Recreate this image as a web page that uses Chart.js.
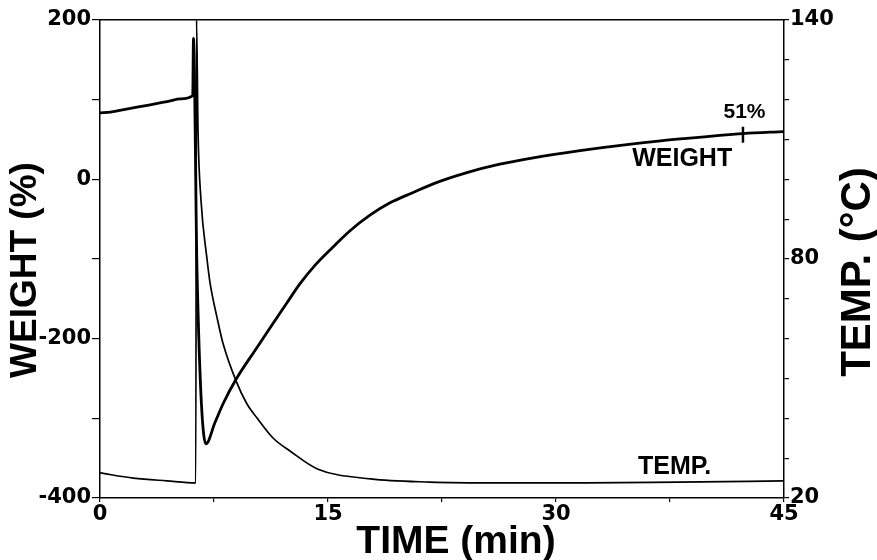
<!DOCTYPE html>
<html>
<head>
<meta charset="utf-8">
<script src="https://cdn.jsdelivr.net/npm/chart.js@4.4.1/dist/chart.umd.min.js"></script>
<style>
html,body{margin:0;padding:0;background:#fff;}
#c{display:block;}
</style>
</head>
<body>
<canvas id="c" width="877" height="560"></canvas>
<script>
// ---- data ----
const weightTime = [0, 0.7, 2.0, 3.3, 4.5, 5.3, 6.1, 6.15, 6.38, 6.97, 7.57, 8.09, 8.95, 10.33, 11.38, 12.3, 13.16, 14.14, 15.33, 16.45, 17.76, 19.08, 20.6, 22.0, 24.14, 26.3, 28.5, 31.58, 35.07, 38.36, 42.3, 45];
const weightPct  = [83.5, 84.5, 89, 93.5, 98, 101, 105, 177, -113, -332, -305, -282, -251, -211, -181, -155, -131, -108, -85, -64.5, -45, -29.5, -16.5, -5, 8.5, 19, 27, 36, 44.5, 51, 57.5, 60];

const tempTime = [0, 2.2, 4.4, 6.3, 6.35, 6.45, 6.64, 7.04, 7.24, 7.7, 8.1, 8.95, 9.67, 10.33, 11.4, 12.5, 14.3, 17.8, 21.7, 26.3, 32, 38, 45];
const tempC    = [26.3, 25.0, 24.3, 23.8, 140, 112, 95, 80, 74, 65.3, 58.7, 49.4, 43.6, 40.1, 35, 31.8, 27.3, 24.8, 24.0, 23.8, 23.8, 24.0, 24.3];

const markerTime = [42.3, 42.3];
const markerPct  = [46, 66];

const xTickLabels = [0, 15, 30, 45];
const leftTickLabels = [-400, -200, 0, 200];
const rightTickLabels = [20, 80, 140];

const xTitle = 'TIME (min)';
const leftTitle = 'WEIGHT (%)';
const rightTitle = 'TEMP. (°C)';
const notes = [
  {text: '51%', x: 42.4, y: 84.7, axis: 'y'},
  {text: 'WEIGHT', x: 38.3, y: 25.8, axis: 'y'},
  {text: 'TEMP.', x: 37.8, y: 27.8, axis: 'y2'}
];

const toXY = (xs, ys) => xs.map((x, i) => ({x: x, y: ys[i]}));

const tickFont = {family: 'DejaVu Sans', weight: 'bold', size: 21};

const textPlugin = {
  id: 'texts',
  afterDraw(chart) {
    const ctx = chart.ctx;
    ctx.save();
    ctx.fillStyle = '#000';
    ctx.textAlign = 'center';
    ctx.textBaseline = 'middle';
    // axis titles
    ctx.font = 'bold 39px "Liberation Sans"';
    ctx.fillText(xTitle, 456, 542);
    ctx.save();
    ctx.font = 'bold 37px "Liberation Sans"';
    ctx.translate(26, 270);
    ctx.rotate(-Math.PI / 2);
    ctx.fillText(leftTitle, 0, 0);
    ctx.restore();
    ctx.save();
    ctx.font = 'bold 42px "Liberation Sans"';
    ctx.translate(858, 272);
    ctx.rotate(-Math.PI / 2);
    ctx.fillText(rightTitle, 0, 0);
    ctx.restore();
    // annotations in data coordinates
    notes.forEach(n => {
      ctx.font = n.text === '51%' ? 'bold 21px "Liberation Sans"' : 'bold 25px "Liberation Sans"';
      const px = chart.scales.x.getPixelForValue(n.x);
      const py = chart.scales[n.axis].getPixelForValue(n.y);
      ctx.fillText(n.text, px, py);
    });
    ctx.restore();
  }
};

new Chart(document.getElementById('c'), {
  type: 'scatter',
  data: {
    datasets: [
      {data: toXY(tempTime, tempC), yAxisID: 'y2', showLine: true, borderColor: '#000', borderWidth: 1.7, pointRadius: 0, cubicInterpolationMode: 'monotone'},
      {data: toXY(weightTime, weightPct), yAxisID: 'y', showLine: true, borderColor: '#000', borderWidth: 2.8, pointRadius: 0, cubicInterpolationMode: 'monotone'},
      {data: toXY(markerTime, markerPct), yAxisID: 'y', showLine: true, borderColor: '#000', borderWidth: 2.5, pointRadius: 0}
    ]
  },
  options: {
    responsive: false,
    devicePixelRatio: 1,
    animation: false,
    events: [],
    layout: {padding: {top: 20, left: 0, right: 0, bottom: 0}},
    plugins: {legend: {display: false}, tooltip: {enabled: false}},
    scales: {
      x: {
        type: 'linear', position: 'bottom', min: 0, max: 45,
        afterFit(s) { s.height = 62; },
        border: {display: true, color: '#000', width: 1.5},
        grid: {drawOnChartArea: false, color: '#000', tickLength: 4, lineWidth: 1.2},
        ticks: {
          stepSize: 7.5, color: '#000', font: tickFont, padding: 0, maxRotation: 0, autoSkip: false,
          callback: v => xTickLabels.includes(v) ? String(v) : ''
        }
      },
      xTop: {
        type: 'linear', position: 'top', min: 0, max: 45,
        afterFit(s) { s.height = 0; },
        border: {display: true, color: '#000', width: 1.5},
        grid: {display: false},
        ticks: {display: false}
      },
      y: {
        type: 'linear', position: 'left', min: -400, max: 200,
        afterFit(s) { s.width = 100; },
        border: {display: true, color: '#000', width: 1.5},
        grid: {drawOnChartArea: false, color: '#000', tickLength: 8, lineWidth: 1.2},
        ticks: {
          stepSize: 100, color: '#000', font: tickFont, padding: 1, autoSkip: false,
          callback: v => leftTickLabels.includes(v) ? String(v) : ''
        }
      },
      y2: {
        type: 'linear', position: 'right', min: 20, max: 140,
        afterFit(s) { s.width = 93; },
        border: {display: true, color: '#000', width: 1.5},
        grid: {drawOnChartArea: false, color: '#000', tickLength: 5, lineWidth: 1.2},
        ticks: {
          stepSize: 10, color: '#000', font: tickFont, padding: 1, autoSkip: false,
          callback: v => rightTickLabels.includes(v) ? String(v) : ''
        }
      }
    }
  },
  plugins: [textPlugin]
});
</script>
</body>
</html>
